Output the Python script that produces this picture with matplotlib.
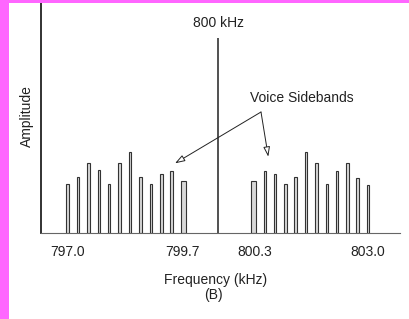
import numpy as np
import matplotlib
import matplotlib.pyplot as plt
import matplotlib.patches as patches

matplotlib.use('agg')
plt.rcParams['font.family'] = ['Liberation Sans', 'DejaVu Sans']

# AM spectrum: carrier plus voice sidebands (amplitude in arbitrary units)
carrier_freq = 800.0
carrier_amp = 10.0
lower_freqs = [797.0, 797.25, 797.49, 797.74, 797.98, 798.23,
               798.47, 798.72, 798.96, 799.21, 799.45, 799.7]
lower_amps = [2.5, 2.85, 3.57, 3.23, 2.5, 3.58, 4.14, 2.87, 2.5, 3.03, 3.2, 2.65]
upper_freqs = [800.3, 800.55, 800.79, 801.04, 801.28, 801.53,
               801.77, 802.02, 802.26, 802.51, 802.75, 803.0]
upper_amps = [2.65, 3.2, 3.04, 2.5, 2.85, 4.14, 3.57, 2.5, 3.2, 3.57, 2.84, 2.46]
tick_freqs = [797.0, 799.7, 800.3, 803.0]
tick_labels = ['797.0', '799.7', '800.3', '803.0']

# schematic (non-linear) frequency axis: the gap around the carrier is stretched
_kHz = [796.0, 797.0, 799.7, 800.3, 803.0, 804.0]
_pos = [-4.07, 0.0, 11.0, 17.89, 28.77, 32.84]


def forward(x):
    return np.interp(x, _kHz, _pos)


def inverse(x):
    return np.interp(x, _pos, _kHz)


fig = plt.figure(figsize=(4.10, 3.19), dpi=100)
ax = fig.add_axes([41 / 410, 86 / 319, 359 / 410, 233 / 319])
ax.set_xscale('function', functions=(forward, inverse))
ax.set_xlim(796.38, 803.75)
ax.set_ylim(0, 11.95)

bar_style = dict(width=0.06, bottom=0, facecolor='#d8d8d8', edgecolor='#333333', linewidth=0.8)
ax.bar(lower_freqs, lower_amps, **bar_style)
ax.bar(upper_freqs, upper_amps, **bar_style)
ax.vlines(carrier_freq, 0, carrier_amp, color='#222222', linewidth=1.1)

for side in ['top', 'right']:
    ax.spines[side].set_visible(False)
ax.spines['left'].set_color('#222222')
ax.spines['left'].set_linewidth(1.3)
ax.spines['bottom'].set_color('#666666')
ax.spines['bottom'].set_linewidth(0.8)

ax.set_yticks([])
ax.set_xticks(tick_freqs)
ax.set_xticklabels(tick_labels)
ax.minorticks_off()
ax.tick_params(axis='x', length=0, pad=8.5, labelsize=10, labelcolor='#222222')

ax.set_ylabel('Amplitude', fontsize=10, color='#222222', labelpad=5)
ax.set_xlabel('Frequency (kHz)', fontsize=10, color='#222222')
ax.xaxis.set_label_coords(0.486, -47 / 233)
ax.xaxis.label.set_va('center')
fig.text(213 / 410, 1 - 295 / 319, '(B)', ha='center', va='center', fontsize=10, color='#222222')

ax.text(carrier_freq, 10.77, '800 kHz', ha='center', va='center', fontsize=10, color='#222222')

ax.text(0.727, 0.579, 'Voice Sidebands', transform=ax.transAxes,
        ha='center', va='center', fontsize=10, color='#222222')
arrow = dict(arrowstyle='-|>,head_length=0.6,head_width=0.2', fc='white', ec='#222222',
             lw=0.7, shrinkA=0, shrinkB=0)
ax.annotate('', xy=(0.3733, 0.2991), xytext=(0.6128, 0.5193),
            xycoords='axes fraction', textcoords='axes fraction', arrowprops=arrow)
ax.annotate('', xy=(0.6331, 0.3275), xytext=(0.6128, 0.5193),
            xycoords='axes fraction', textcoords='axes fraction', arrowprops=arrow)

# magenta frame strips on the left and top edges
fig.patches.append(patches.Rectangle((0, 0), 9 / 410, 1, transform=fig.transFigure,
                                     facecolor='#ff66ff', edgecolor='none', zorder=10))
fig.patches.append(patches.Rectangle((0, 1 - 3.3 / 319), 1, 3.3 / 319, transform=fig.transFigure,
                                     facecolor='#ff66ff', edgecolor='none', zorder=10))

fig.savefig('out.png', dpi=100)
